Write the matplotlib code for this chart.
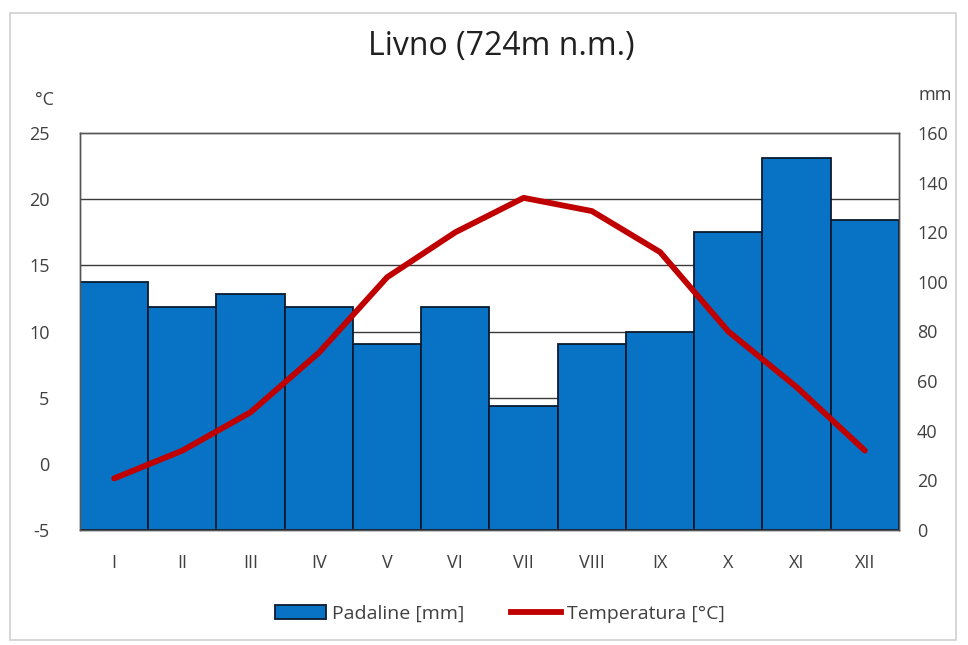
import matplotlib
matplotlib.use("Agg")
import matplotlib.pyplot as plt
from matplotlib.patches import Rectangle
from matplotlib.lines import Line2D
from matplotlib.patches import Patch

plt.rcParams['font.family'] = ['Open Sans', 'DejaVu Sans']

months = ["I", "II", "III", "IV", "V", "VI", "VII", "VIII", "IX", "X", "XI", "XII"]
precip_mm = [100, 90, 95, 90, 75, 90, 50, 75, 80, 120, 150, 125]
temp_c = [-1.1, 1.0, 3.9, 8.4, 14.1, 17.5, 20.1, 19.1, 16.0, 10.0, 5.8, 1.0]
temp_ticks = [-5, 0, 5, 10, 15, 20, 25]
mm_ticks = [0, 20, 40, 60, 80, 100, 120, 140, 160]
title = "Livno (724m n.m.)"

T_MIN, T_MAX = -5, 25
MM_MIN, MM_MAX = 0, 160

W, H = 968, 645
fig = plt.figure(figsize=(W / 100, H / 100), dpi=100)

# outer chart frame
fig.patches.append(Rectangle((10 / W, 1 - 640 / H), 946 / W, 627 / H,
                             transform=fig.transFigure, fill=False,
                             edgecolor="#d0d0d0", linewidth=1.2))

ax = fig.add_axes([80 / W, 1 - 530 / H, (899 - 80) / W, (530 - 133) / H])
ax_t = ax.twinx()

x = list(range(len(months)))
ax.bar(x, precip_mm, width=1.0, color="#0872C4", edgecolor="#0a1a2e",
       linewidth=1.3, zorder=3, label="Padaline [mm]")
ax.set_ylim(MM_MIN, MM_MAX)
ax.set_xlim(-0.5, len(months) - 0.5)

# gridlines at temperature ticks (drawn behind the bars)
for t in temp_ticks[1:-1]:
    mm = (t - T_MIN) / (T_MAX - T_MIN) * (MM_MAX - MM_MIN) + MM_MIN
    ax.axhline(mm, color="#3a3a3a", linewidth=1.0, zorder=1)

ax_t.plot(x, temp_c, color="#C00000", linewidth=4.2, solid_capstyle="round",
          solid_joinstyle="round", zorder=5, label="Temperatura [°C]")
ax_t.set_ylim(T_MIN, T_MAX)

# put temperature axis on the left, precipitation on the right
ax.yaxis.tick_right()
ax_t.yaxis.tick_left()
ax.set_yticks(mm_ticks)
ax_t.set_yticks(temp_ticks)
ax_t.set_yticklabels([str(t) for t in temp_ticks])
ax.set_xticks(x)
ax.set_xticklabels(months)

for a in (ax, ax_t):
    a.tick_params(axis="both", length=0, labelsize=13, colors="#404040")
    for s in a.spines.values():
        s.set_color("#555555")
        s.set_linewidth(1.0)
ax.tick_params(axis="x", pad=17)
ax.tick_params(axis="y", pad=13)
ax_t.tick_params(axis="y", pad=22)

fig.text(501 / W, 1 - 46 / H, title, ha="center", va="center", fontsize=23,
         color="#202020")
fig.text(35 / W, 1 - 100 / H, "°C", ha="left", va="center", fontsize=13,
         color="#404040")
fig.text(918 / W, 1 - 95 / H, "mm", ha="left", va="center", fontsize=13,
         color="#404040")

handles = [Patch(facecolor="#0872C4", edgecolor="#0a1a2e", linewidth=1.3),
           Line2D([0], [0], color="#C00000", linewidth=4.2)]
fig.legend(handles, ["Padaline [mm]", "Temperatura [°C]"], loc="center",
           bbox_to_anchor=(500 / W, 1 - 614 / H), ncol=2, frameon=False,
           fontsize=14, handlelength=2.6, handletextpad=0.3, columnspacing=2.4,
           labelcolor="#404040")

fig.savefig("out.png", dpi=100, facecolor="white")
